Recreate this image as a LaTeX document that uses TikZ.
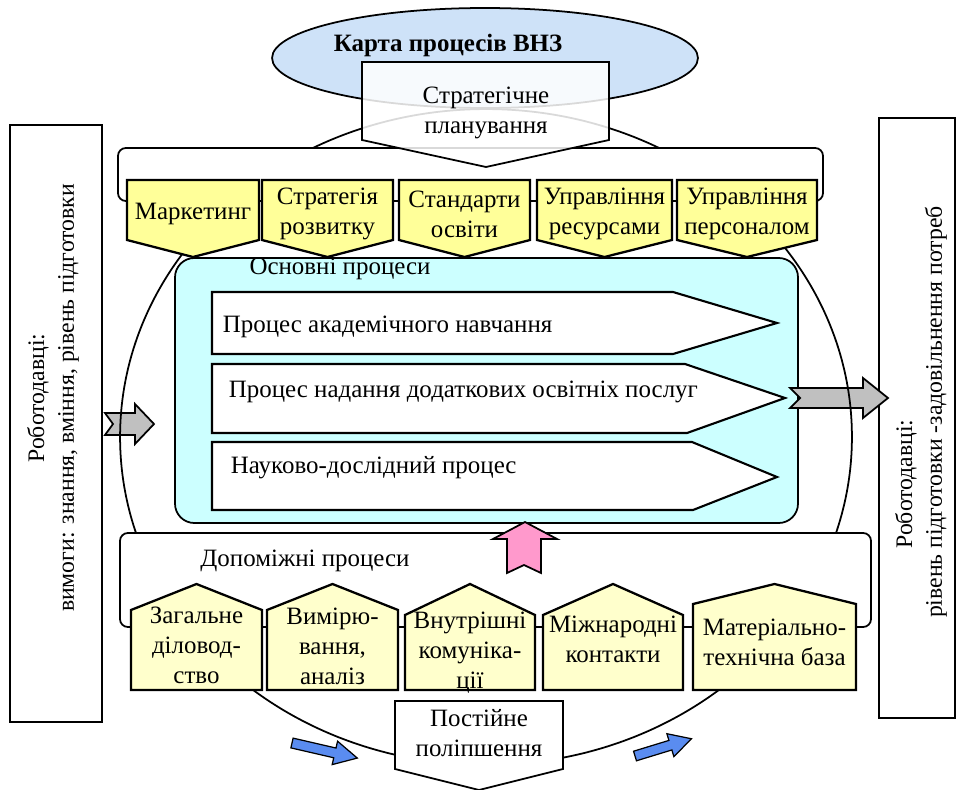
\documentclass[tikz,border=0pt]{standalone}
\usepackage{fontspec}
\setmainfont{Liberation Serif}
\definecolor{mapblue}{RGB}{206,226,248}
\definecolor{maincyan}{RGB}{204,255,255}
\definecolor{mgmtyellow}{RGB}{255,255,153}
\definecolor{supyellow}{RGB}{255,255,204}
\definecolor{flowgrey}{RGB}{192,192,192}
\definecolor{flowpink}{RGB}{255,153,204}
\definecolor{cycleblue}{RGB}{90,140,240}

\begin{document}
\begin{tikzpicture}[x=0.02cm, y=-0.02cm, line width=1pt,
  txt/.style={font=\fontsize{14.2}{17}\selectfont, align=center, inner sep=0pt},
  sidetxt/.style={txt, font=\fontsize{13.5}{17}\selectfont, rotate=90},
  sidebox/.style={draw, fill=white, line width=0.9pt},
  panel/.style={draw, fill=white, rounded corners=4.5pt},
  mgmt/.style={draw, fill=mgmtyellow, line width=1.3pt},
  supp/.style={draw, fill=supyellow, line width=1.3pt},
  flow/.style={draw, fill=white, line width=1.2pt},
  greyarrow/.style={draw, fill=flowgrey},
  bluearrow/.style={draw, fill=cycleblue, line width=0.7pt}]
\useasboundingbox (0,0) rectangle (959,790);

\draw[sidebox] (10,125) rectangle (102,722);
\draw[sidebox] (879,118) rectangle (955,718);
\node[sidetxt] (input) at (53,398) {Роботодавці:\\вимоги: знання, вміння, рівень підготовки};
\node[sidetxt] (output1) at (906,484) {Роботодавці:};
\node[sidetxt] (output2) at (936,412) {рівень підготовки -задовільнення потреб};

\draw[fill=maincyan, rounded corners=11pt] (175,258) rectangle (798,523);
\node[txt] (core) at (340,269) {Основні процеси};
\draw[flow] (212,292) -- (673,292) -- (777,323) -- (673,354) -- (212,354) -- cycle;
\draw[flow] (212,364) -- (685,364) -- (785,398) -- (687,433) -- (212,433) -- cycle;
\draw[flow] (212,442) -- (692,442) -- (777,477) -- (693,510) -- (212,510) -- cycle;
\node[txt, anchor=base west] (acad) at (222,332) {Процес академічного навчання};
\node[txt, anchor=base west] (extra) at (228,397) {Процес надання додаткових освітніх послуг};
\node[txt, anchor=base west] (sci) at (230,473) {Науково-дослідний процес};

\draw[greyarrow] (105,413) -- (135,413) -- (135,404) -- (154,424) -- (135,444) -- (135,435) -- (105,435) -- (113,424) -- cycle;
\draw[greyarrow] (790,388) -- (863,388) -- (863,378) -- (888,398) -- (863,418) -- (863,408) -- (790,408) -- (800,398) -- cycle;

\draw (486,437) ellipse [x radius=7.32cm, y radius=6.56cm];

\draw[fill=mapblue] (485,58) ellipse [x radius=4.26cm, y radius=1cm];
\node[txt, font=\fontsize{14.2}{17}\selectfont\bfseries] (title) at (448,46) {Карта процесів ВНЗ};

\draw[panel] (118,148) rectangle (823,201);
\draw[fill=white, fill opacity=0.85] (362,62) -- (609,62) -- (609,140) -- (486,167) -- (362,140) -- cycle;
\node[txt] (plan) at (486,113) {Стратегічне\\планування};

\foreach \n/\l/\r/\t in {mark/127/259/Маркетинг, dev/262/393/{Стратегія\\розвитку},
    std/399/530/{Стандарти\\освіти}, res/537/672/{Управління\\ресурсами},
    staff/677/817/{Управління\\персоналом}}{
  \draw[mgmt] (\l,180) -- (\r,180) -- (\r,240) -- ({(\l+\r)/2},257) -- (\l,240) -- cycle;
  \node[txt] (\n) at ({(\l+\r)/2},214) {\t};
}

\draw[panel] (120,533) rectangle (871,627);
\node[txt] (support) at (305,561) {Допоміжні процеси};
\draw[fill=flowpink] (525,522) -- (557,539) -- (541,539) -- (541,573) -- (524,565) -- (507,573) -- (507,539) -- (493,539) -- cycle;

\foreach \n/\l/\r/\s/\ty/\t in {office/131/262/610/645/{Загальне\\діловод-\\ство},
    measure/267/398/610/646/{Вимірю-\\вання,\\аналіз},
    comm/405/535/615/653/{Внутрішні\\комуніка-\\ції},
    intl/543/683/615/639/{Міжнародні\\контакти},
    base/693/856/604/642/{Матеріально-\\технічна база}}{
  \draw[supp] (\l,690) -- (\l,\s) -- ({(\l+\r)/2},584) -- (\r,\s) -- (\r,690) -- cycle;
  \node[txt] (\n) at ({(\l+\r)/2},\ty) {\t};
}

\draw[fill=white] (395,701) -- (563,701) -- (563,769) -- (479,790) -- (395,769) -- cycle;
\node[txt] (improve) at (479,733) {Постійне\\поліпшення};

\draw[bluearrow, shift={(292,743)}, rotate=-13] (0,-5) -- (44,-5) -- (44,-12) -- (67,0) -- (44,12) -- (44,5) -- (0,5) -- cycle;
\draw[bluearrow, shift={(635,756)}, rotate=17] (0,-5) -- (37,-5) -- (37,-12) -- (59,0) -- (37,12) -- (37,5) -- (0,5) -- cycle;
\end{tikzpicture}
\end{document}
